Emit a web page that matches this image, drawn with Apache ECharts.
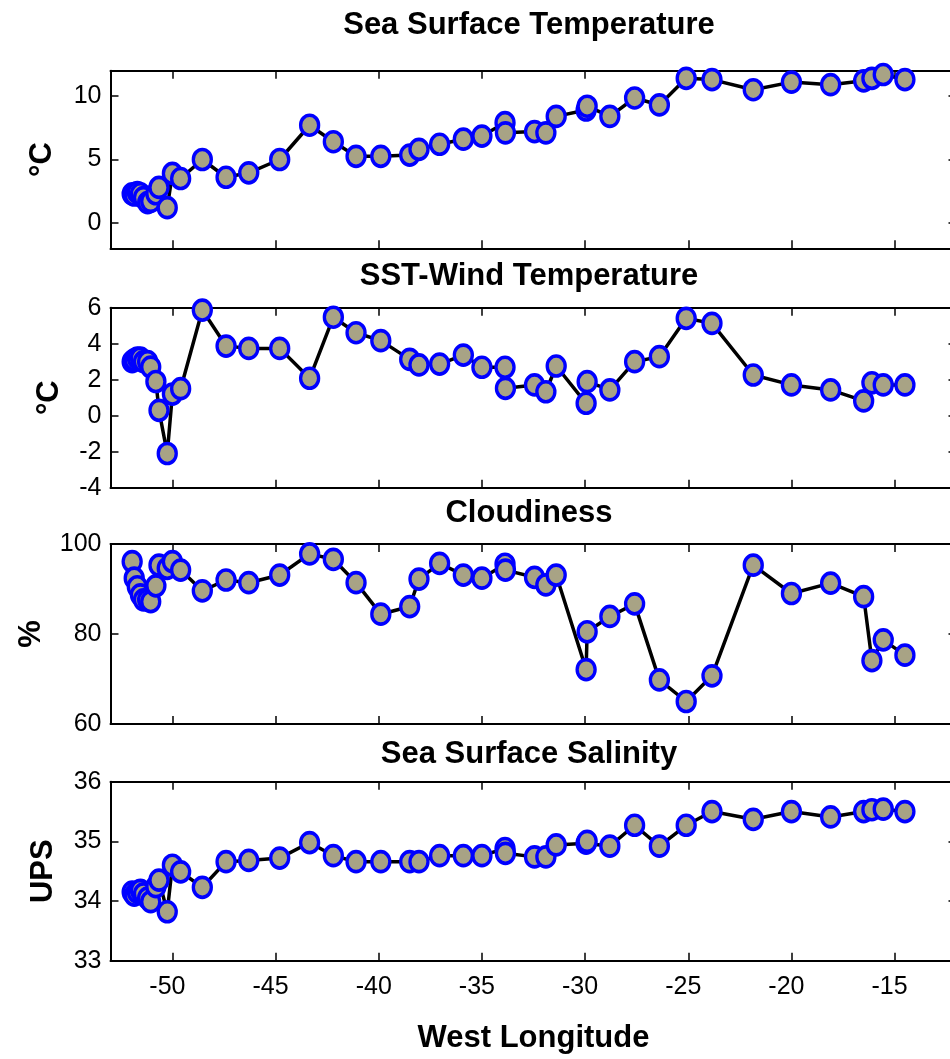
<!DOCTYPE html>
<html>
<head>
<meta charset="utf-8">
<script src="https://cdn.jsdelivr.net/npm/echarts@6/dist/echarts.min.js"></script>
<style>
html,body{margin:0;padding:0;background:#fff;}
#chart{width:950px;height:1059px;}
</style>
</head>
<body>
<div id="chart"></div>
<script>
// Station longitudes (West longitude, negative)
const longitude = [-51.95, -51.85, -51.7, -51.55, -51.4, -51.2, -51.05, -50.8, -50.65, -50.25, -50.0, -49.6,
  -48.55, -47.4, -46.3, -44.8, -43.35, -42.2, -41.1, -39.9, -38.5, -38.05, -37.05, -35.9, -35.0,
  -33.88, -33.86, -32.45, -31.9, -31.4, -29.95, -29.9, -28.8, -27.6, -26.4, -25.1, -23.85,
  -21.85, -20.0, -18.1, -16.5, -16.1, -15.55, -14.5];

const sst = [2.3, 2.2, 2.4, 2.3, 2.0, 1.6, 1.7, 2.3, 2.8, 1.2, 3.9, 3.5,
  5.0, 3.6, 3.95, 5.0, 7.7, 6.4, 5.25, 5.25, 5.35, 5.8, 6.2, 6.6, 6.85,
  7.9, 7.1, 7.2, 7.1, 8.4, 8.9, 9.2, 8.4, 9.85, 9.3, 11.4, 11.3,
  10.5, 11.1, 10.9, 11.2, 11.4, 11.7, 11.3];

const sstWind = [3.0, 3.1, 3.2, 3.2, 3.0, 3.0, 2.7, 1.9, 0.3, -2.1, 1.2, 1.5,
  5.87, 3.87, 3.74, 3.74, 2.08, 5.47, 4.61, 4.17, 3.13, 2.82, 2.87, 3.37, 2.69,
  2.69, 1.52, 1.71, 1.33, 2.76, 0.69, 1.89, 1.43, 3.0, 3.28, 5.41, 5.13,
  2.26, 1.71, 1.43, 0.82, 1.83, 1.71, 1.71];

const cloudiness = [96.1, 92.4, 90.5, 88.7, 87.6, 87.6, 87.2, 90.7, 95.3, 94.6, 96.1, 94.2,
  89.6, 92.0, 91.4, 93.1, 97.8, 96.6, 91.4, 84.4, 86.1, 92.2, 95.7, 93.1, 92.4,
  95.5, 94.2, 92.6, 90.9, 93.1, 72.1, 80.5, 83.9, 86.7, 69.8, 65.0, 70.7,
  95.3, 89.0, 91.3, 88.3, 74.1, 78.7, 75.3];

const salinity = [34.15, 34.1, 34.15, 34.18, 34.12, 34.05, 33.99, 34.24, 34.35, 33.82, 34.6, 34.49,
  34.23, 34.66, 34.68, 34.72, 34.98, 34.76, 34.66, 34.66, 34.66, 34.66, 34.76, 34.76, 34.76,
  34.88, 34.8, 34.74, 34.74, 34.94, 34.97, 35.0, 34.92, 35.27, 34.92, 35.27, 35.5,
  35.37, 35.5, 35.41, 35.5, 35.53, 35.54, 35.5];

const xTicks = [-50, -45, -40, -35, -30, -25, -20, -15];
const sstTicks = [0, 5, 10];

const panels = [
  {title: 'Sea Surface Temperature', unit: '°C', values: sst, min: -2, max: 12, ticks: sstTicks, nameGap: 53},
  {title: 'SST-Wind Temperature', unit: '°C', values: sstWind, min: -4, max: 6, interval: 2, nameGap: 46},
  {title: 'Cloudiness', unit: '%', values: cloudiness, min: 60, max: 100, interval: 20, nameGap: 64},
  {title: 'Sea Surface Salinity', unit: 'UPS', values: salinity, min: 33, max: 36, interval: 1, nameGap: 52}
];

const gridTops = [70.7, 307.7, 544, 781.7];
const gridHeights = [177.6, 180, 180, 179];
const titleTops = [10, 260.5, 497.5, 739];

const tickFont = "'Liberation Sans', Arial, Helvetica, sans-serif";
const boldFont = "'Liberation Sans', Arial, Helvetica, sans-serif";

const axisLine = {show: true, onZero: false, lineStyle: {color: '#000', width: 2}};
const axisTick = {show: true, inside: true, length: 8, lineStyle: {color: '#000', width: 1.5}};

const option = {
  backgroundColor: '#fff',
  animation: false,
  title: panels.map((p, i) => ({
    text: p.title, left: 529, top: titleTops[i], textAlign: 'center', padding: 0,
    textStyle: {fontFamily: boldFont, fontWeight: 'bold', fontSize: 31, color: '#000', lineHeight: 31}
  })),
  grid: panels.map((p, i) => ({
    left: 110.5, width: 846, top: gridTops[i], height: gridHeights[i],
    containLabel: false, outerBoundsMode: 'none'
  })),
  xAxis: [],
  yAxis: [],
  series: []
};

panels.forEach((p, i) => {
  const last = i === panels.length - 1;
  // bottom x axis
  option.xAxis.push({
    type: 'value', gridIndex: i, position: 'bottom', min: -53, max: -12,
    axisLine, splitLine: {show: false},
    axisTick: Object.assign({}, axisTick, {customValues: xTicks}),
    axisLabel: {show: last, customValues: xTicks, margin: 14, padding: [0, 10, 0, 0], color: '#000', fontFamily: tickFont, fontSize: 25},
    name: last ? 'West Longitude' : '', nameLocation: 'middle', nameGap: 62,
    nameTextStyle: {fontFamily: boldFont, fontWeight: 'bold', fontSize: 31, color: '#000'}
  });
  // top mirrored x axis
  option.xAxis.push({
    type: 'value', gridIndex: i, position: 'top', min: -53, max: -12,
    axisLine, splitLine: {show: false},
    axisTick: Object.assign({}, axisTick, {customValues: xTicks}),
    axisLabel: {show: false, customValues: xTicks}
  });
  const yBase = {type: 'value', gridIndex: i, min: p.min, max: p.max, splitLine: {show: false}, axisLine};
  if (p.interval) yBase.interval = p.interval;
  const yTick = Object.assign({}, axisTick);
  const yLab = {show: true, margin: 9, color: '#000', fontFamily: tickFont, fontSize: 25};
  if (p.ticks) { yTick.customValues = p.ticks; yLab.customValues = p.ticks; }
  option.yAxis.push(Object.assign({}, yBase, {
    position: 'left', axisTick: yTick, axisLabel: yLab,
    name: p.unit, nameLocation: 'middle', nameGap: p.nameGap,
    nameTextStyle: {fontFamily: boldFont, fontWeight: 'bold', fontSize: 31, color: '#000'}
  }));
  option.yAxis.push(Object.assign({}, yBase, {
    position: 'right', axisTick: yTick, axisLabel: Object.assign({}, yLab, {show: false})
  }));
  option.series.push({
    type: 'line', xAxisIndex: 2 * i, yAxisIndex: 2 * i,
    data: longitude.map((x, k) => [x, p.values[k]]),
    symbol: 'circle', symbolSize: [18, 20], showAllSymbol: true,
    lineStyle: {color: '#000', width: 3.5},
    itemStyle: {color: '#a8a385', borderColor: '#0000ff', borderWidth: 3.5},
    z: 3
  });
});

const chart = echarts.init(document.getElementById('chart'), null, {renderer: 'canvas'});
chart.setOption(option);
</script>
</body>
</html>
